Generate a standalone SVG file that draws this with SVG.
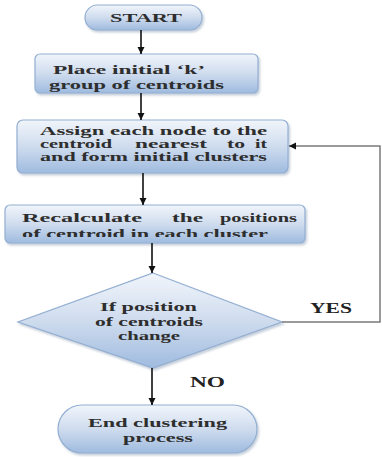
<svg xmlns="http://www.w3.org/2000/svg" width="382" height="457" viewBox="0 0 382 457">
<style>
.shape{fill:url(#g);stroke:#93afd2;stroke-width:1.2;filter:url(#sh)}
.t{font-family:"Liberation Serif","Times New Roman",serif;font-weight:bold;font-size:13px;fill:#2e2e2e}
.s{font-size:12px}
.lbl{font-family:"Liberation Serif","Times New Roman",serif;font-weight:bold;font-size:15px;fill:#222}
.c{stroke:#111;stroke-width:1.6;fill:none}
.fb{stroke:#7a7a7a;stroke-width:1.5;fill:none}
</style>
<defs>
<linearGradient id="g" x1="0" y1="0" x2="0" y2="1">
<stop offset="0" stop-color="#f1f5fb"/>
<stop offset="0.5" stop-color="#cfdcee"/>
<stop offset="1" stop-color="#9fbbdf"/>
</linearGradient>
<filter id="sh" x="-10%" y="-20%" width="120%" height="150%">
<feDropShadow dx="1.5" dy="2" stdDeviation="1.2" flood-color="#7f93ad" flood-opacity="0.45"/>
</filter>
<marker id="ah" markerWidth="8" markerHeight="8" refX="7" refY="4" orient="auto" markerUnits="userSpaceOnUse">
<path d="M0,0.5 L7,4 L0,7.5 Z" fill="#111"/>
</marker>
<clipPath id="clip4"><rect x="0" y="200" width="382" height="37"/></clipPath>
</defs>
<g id="start">
<rect class="shape" x="85" y="5" width="117" height="25" rx="12.5"/>
<text class="t" x="110" y="22" textLength="72" lengthAdjust="spacingAndGlyphs">START</text>
</g>
<g id="place">
<rect class="shape" x="35" y="54" width="223" height="39" rx="5"/>
<text class="t" x="53" y="74" textLength="152" lengthAdjust="spacingAndGlyphs">Place initial ‘k’</text>
<text class="t" x="49" y="89" textLength="175" lengthAdjust="spacingAndGlyphs">group of centroids</text>
</g>
<g id="assign">
<rect class="shape" x="17" y="120" width="271" height="53" rx="6"/>
<text class="t s" x="40" y="135" textLength="227" lengthAdjust="spacingAndGlyphs">Assign each node to the</text>
<text class="t s" y="147.8"><tspan x="40" textLength="72" lengthAdjust="spacingAndGlyphs">centroid</tspan><tspan x="135" textLength="72" lengthAdjust="spacingAndGlyphs">nearest</tspan><tspan x="227" textLength="18" lengthAdjust="spacingAndGlyphs">to</tspan><tspan x="255" textLength="12" lengthAdjust="spacingAndGlyphs">it</tspan></text>
<text class="t s" x="40" y="160.6" textLength="227" lengthAdjust="spacingAndGlyphs">and form initial clusters</text>
</g>
<g id="recalc">
<rect class="shape" x="5" y="205" width="300" height="38" rx="5"/>
<text class="t" y="222"><tspan x="22" textLength="120" lengthAdjust="spacingAndGlyphs">Recalculate</tspan><tspan x="172" textLength="31" lengthAdjust="spacingAndGlyphs">the</tspan><tspan x="220" textLength="77" lengthAdjust="spacingAndGlyphs">positions</tspan></text>
<text class="t" x="22" y="238" textLength="246" lengthAdjust="spacingAndGlyphs" clip-path="url(#clip4)">of centroid in each cluster</text>
</g>
<g id="decision">
<polygon class="shape" points="153,273 282,322 153,368 18,322"/>
<text class="t" x="100" y="311" textLength="97" lengthAdjust="spacingAndGlyphs">If position</text>
<text class="t" x="95" y="325.5" textLength="108" lengthAdjust="spacingAndGlyphs">of centroids</text>
<text class="t" x="118" y="340" textLength="62" lengthAdjust="spacingAndGlyphs">change</text>
</g>
<g id="end">
<rect class="shape" x="58" y="405" width="199" height="48" rx="24"/>
<text class="t" x="88" y="427" textLength="139" lengthAdjust="spacingAndGlyphs">End clustering</text>
<text class="t" x="123" y="441.5" textLength="70" lengthAdjust="spacingAndGlyphs">process</text>
</g>
<g id="connectors">
<line class="c" x1="141" y1="30" x2="141" y2="54" marker-end="url(#ah)"/>
<line class="c" x1="141" y1="93" x2="141" y2="120" marker-end="url(#ah)"/>
<line class="c" x1="143" y1="173" x2="143" y2="205" marker-end="url(#ah)"/>
<line class="c" x1="152" y1="243" x2="152" y2="273" marker-end="url(#ah)"/>
<line class="c" x1="152" y1="368" x2="152" y2="405" marker-end="url(#ah)"/>
<polyline class="fb" points="282,322 380,322 380,146 289,146" marker-end="url(#ah)"/>
<text class="lbl" x="310" y="313" textLength="42" lengthAdjust="spacingAndGlyphs">YES</text>
<text class="lbl" x="190" y="387" textLength="35" lengthAdjust="spacingAndGlyphs">NO</text>
</g>
</svg>
